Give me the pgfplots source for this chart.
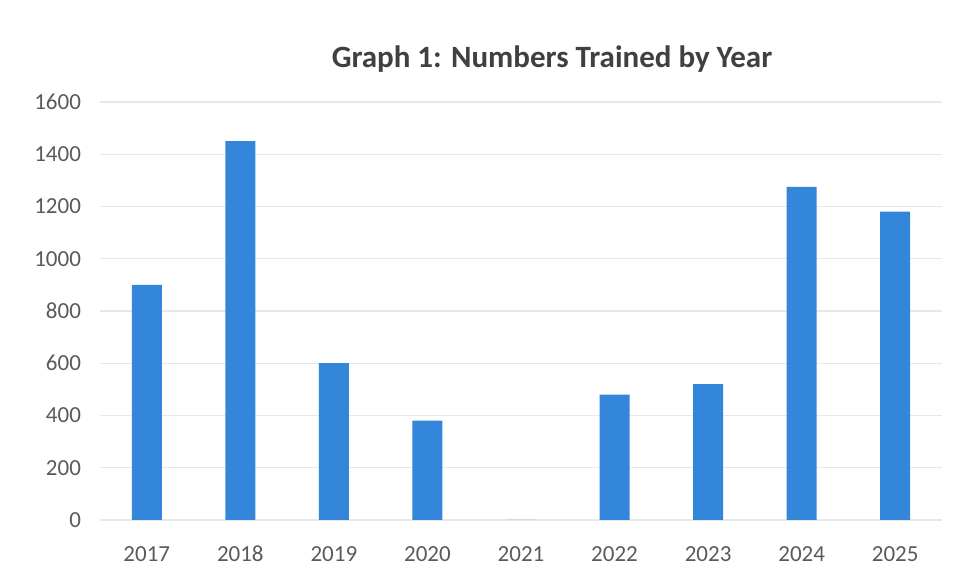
\documentclass[border=0pt]{standalone}
\usepackage{fontspec}
\setmainfont{Carlito}
\usepackage{pgfplots}
\pgfplotsset{compat=1.18}
\definecolor{barblue}{RGB}{52,134,218}
\definecolor{ticktext}{RGB}{90,90,90}
\definecolor{titletext}{RGB}{64,64,64}
\definecolor{gridgray}{RGB}{232,232,232}
\begin{document}
\begin{tikzpicture}
\begin{axis}[
    at={(0,0)}, anchor=south west,
    scale only axis,
    width=421pt, height=209pt,
    ybar, bar width=15pt,
    xmin=-0.5, xmax=8.5,
    ymin=0, ymax=1600,
    ytick={0,200,...,1600},
    xtick=data,
    xticklabels={2017,2018,2019,2020,2021,2022,2023,2024,2025},
    axis line style={draw=none},
    axis x line*=bottom,
    x axis line style={draw=gridgray},
    tick style={draw=none},
    ymajorgrids, grid style={gridgray, line width=0.6pt},
    /pgf/number format/assume math mode=true,
    /pgf/number format/1000 sep={},
    ticklabel style={font=\fontsize{11.5}{13}\selectfont, text=ticktext},
    yticklabel style={xshift=-6pt},
    xticklabel style={yshift=-5pt, text height=8pt, text depth=0pt},
    ]
\addplot[fill=barblue, draw=none] coordinates {
  (0,900) (1,1450) (2,600) (3,380) (4,0) (5,480) (6,520) (7,1275) (8,1180)};
\end{axis}
\node[anchor=base, font=\fontsize{15.5}{18}\selectfont\bfseries, text=titletext] at (226pt,226pt) {Graph 1: Numbers Trained by Year};
\path[use as bounding box] (-50pt,-29pt) rectangle (429pt,260pt);
\end{tikzpicture}
\end{document}
